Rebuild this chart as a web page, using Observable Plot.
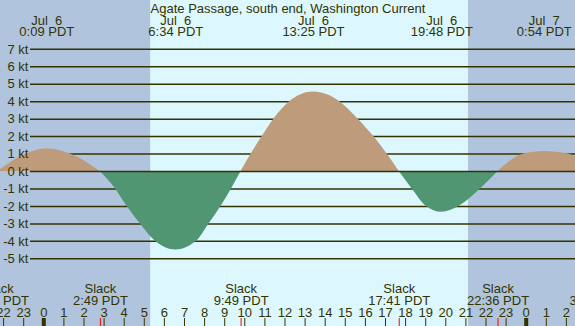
<!DOCTYPE html>
<html><head><meta charset="utf-8">
<script src="https://cdn.jsdelivr.net/npm/d3@7"></script>
<script src="https://cdn.jsdelivr.net/npm/@observablehq/plot@0.6"></script>
<style>
html,body{margin:0;padding:0;background:#fff;}
#chart svg{display:block;white-space:pre;overflow:hidden;}
</style></head><body><div id="chart"></div>
<script>
// ---- data ----
const title = "Agate Passage, south end, Washington Current";
const ktTicks = [-5, -4, -3, -2, -1, 0, 1, 2, 3, 4, 5, 6, 7];
const hourTicks = [-2, -1, 0, 1, 2, 3, 4, 5, 6, 7, 8, 9, 10, 11, 12, 13, 14, 15, 16, 17, 18, 19, 20, 21, 22, 23, 24, 25, 26];
const midnightHours = [0, 24];
const extremeDates = ["Jul  6", "Jul  6", "Jul  6", "Jul  6", "Jul  7"];
const extremeTimes = ["0:09", "6:34", "13:25", "19:48", "0:54"];
const slackDates = ["Jul  5", "Jul  6", "Jul  6", "Jul  6", "Jul  6", "Jul  7"];
const slackTimes = ["21:43", "2:49", "9:49", "17:41", "22:36", "3:31"];
const sunriseTime = "5:19";
const sunsetTime = "21:08";
// current speed readings (hours after Jul 6 0:00, knots)
const currentHours = [-2.279, -0.861, 0.15, 1.328, 2.817,
  3.572, 4.149, 4.811, 5.557, 6.567, 7.597, 8.219, 8.816, 9.338, 9.817,
  10.318, 10.866, 11.443, 12.239, 13.417, 14.726, 15.642, 16.418, 17.085, 17.683,
  18.328, 19.040, 19.8, 20.647, 21.726, 22.6,
  23.881, 24.9, 26.119, 26.453, 27.522];
const currentKt = [0, 1.0, 1.3, 1.0, 0,
  -1, -2, -3, -4, -4.5, -4, -3, -2, -1, 0,
  1, 2, 3, 4, 4.55, 4, 3, 2, 1, 0,
  -1, -2, -2.33, -2, -1, 0,
  1.0, 1.15, 1.0, 0.84, 0];

// ---- styles ----
const ink = "#333300";
const nightFill = "#b0c4de";
const dayFill = "#ddf7ff";
const floodFill = "#bd9b7b";
const ebbFill = "#509672";

const dayOffset = {"Jul  5": -24, "Jul  6": 0, "Jul  7": 24};
const toHours = (date, t) => { const [h, m] = t.split(":").map(Number); return dayOffset[date] + h + m / 60; };

const extremes = extremeTimes.map((t, i) => ({date: extremeDates[i], time: t, h: toHours(extremeDates[i], t)}));
const slacks = slackTimes.map((t, i) => ({date: slackDates[i], time: t, h: toHours(slackDates[i], t)}));
const sunriseH = toHours("Jul  6", sunriseTime);
const sunsetH = toHours("Jul  6", sunsetTime);
const xDomain = [-2.154, 26.453];
const periods = [
  {from: xDomain[0], to: sunriseH, fill: nightFill},
  {from: sunriseH, to: sunsetH, fill: dayFill},
  {from: sunsetH, to: xDomain[1], fill: nightFill}
];

const pts = currentHours.map((h, i) => ({h, v: currentKt[i]}));
const segs = []; let cur = [pts[0]];
for (let i = 1; i < pts.length; i++) {
  cur.push(pts[i]);
  if (pts[i].v === 0 && i < pts.length - 1) { segs.push(cur); cur = [pts[i]]; }
}
segs.push(cur);
const areaData = segs.flatMap((s, k) => {
  const type = d3.sum(s, d => d.v) > 0 ? "flood" : "ebb";
  return s.map(d => ({...d, seg: k, type}));
});

const hourLabel = h => String(((h % 24) + 24) % 24);
const fs = 13;

const chart = Plot.plot({
  width: 575, height: 326,
  marginLeft: 0, marginRight: 0, marginTop: 0, marginBottom: 0,
  x: {domain: xDomain, axis: null},
  y: {domain: [-8.88, 9.8], axis: null},
  style: {fontFamily: "'Liberation Sans', Arial, sans-serif", fontSize: "13px", background: nightFill, color: ink},
  marks: [
    Plot.rect(periods, {x1: "from", x2: "to", fill: "fill"}),
    Plot.ruleY(ktTicks.filter(d => d !== 0), {y: d => d, stroke: ink, strokeWidth: 1.5, insetLeft: 30}),
    Plot.areaY(areaData.filter(d => d.type === "flood"), {x: "h", y1: 0, y2: "v", z: "seg", fill: floodFill, curve: "monotone-x", clip: true}),
    Plot.areaY(areaData.filter(d => d.type === "ebb"), {x: "h", y1: 0, y2: "v", z: "seg", fill: ebbFill, curve: "monotone-x", clip: true}),
    Plot.ruleY([0], {y: d => d, stroke: ink, strokeWidth: 1.5, insetLeft: 30}),
    Plot.text(ktTicks, {y: d => d, text: d => `${d} kt`, frameAnchor: "left", dx: 28, textAnchor: "end", fill: ink, fontSize: fs}),
    Plot.text([title], {text: d => d, frameAnchor: "top", dy: 12, lineAnchor: "bottom", fill: ink, fontSize: fs}),
    Plot.text(extremes, {x: "h", text: "date", frameAnchor: "top", dy: 24, lineAnchor: "bottom", fill: ink, fontSize: fs}),
    Plot.text(extremes, {x: "h", text: d => `${d.time} PDT`, frameAnchor: "top", dy: 35.7, lineAnchor: "bottom", fill: ink, fontSize: fs}),
    Plot.text(slacks, {x: "h", text: () => "Slack", frameAnchor: "bottom", dy: -33.7, lineAnchor: "bottom", fill: ink, fontSize: fs}),
    Plot.text(slacks, {x: "h", text: d => `${d.time} PDT`, frameAnchor: "bottom", dy: -22, lineAnchor: "bottom", fill: ink, fontSize: fs}),
    Plot.text(hourTicks, {x: d => d, text: hourLabel, frameAnchor: "bottom", dy: -10, lineAnchor: "bottom", fill: ink, fontSize: fs}),
    Plot.ruleX(hourTicks, {x: d => d, stroke: ink, strokeWidth: 1, insetTop: 318}),
    Plot.ruleX(midnightHours, {x: d => d, stroke: ink, strokeWidth: 4, insetTop: 318}),
    Plot.ruleX(slacks, {x: "h", stroke: "#ff0000", strokeWidth: 1, insetTop: 318})
  ]
});
document.getElementById("chart").appendChild(chart);
</script>
</body></html>
